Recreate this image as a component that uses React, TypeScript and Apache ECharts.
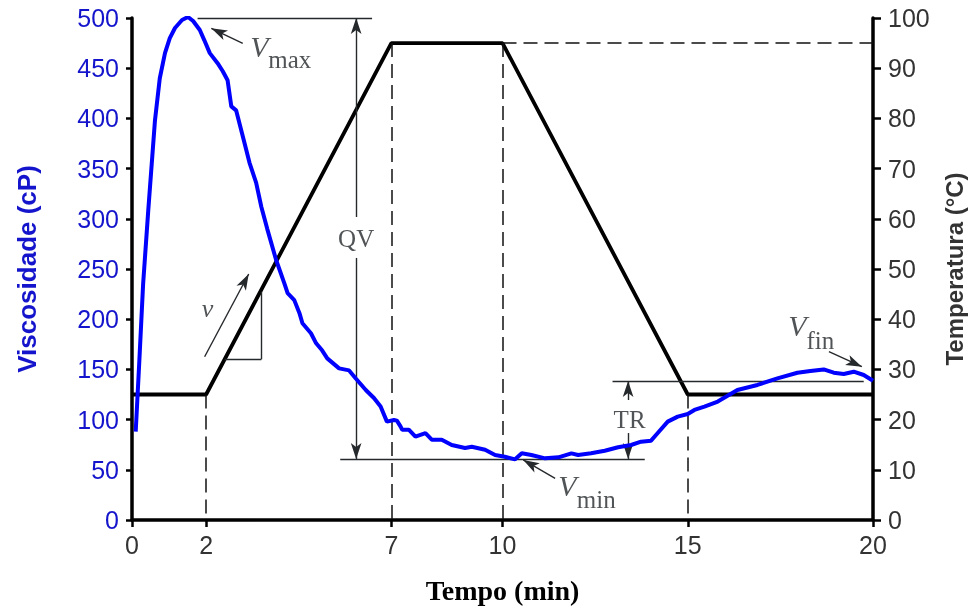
import React, { useEffect, useRef } from 'react';
import * as echarts from 'echarts';

// ---- data ----
const timeTicks = [0, 2, 7, 10, 15, 20];

const viscTime = [0.1, 0.2, 0.3, 0.44, 0.62, 0.75, 0.89, 1.02, 1.16, 1.35, 1.51, 1.65, 1.83, 1.95, 2.1, 2.31, 2.45, 2.58, 2.68, 2.81, 3.04, 3.17, 3.35, 3.49, 3.65, 3.89, 4.11, 4.2, 4.38, 4.52, 4.6, 4.83, 4.97, 5.13, 5.27, 5.59, 5.86, 6.04, 6.31, 6.53, 6.71, 6.88, 7.07, 7.15, 7.25, 7.29, 7.47, 7.65, 7.92, 8.09, 8.36, 8.63, 8.99, 9.17, 9.53, 9.8, 10.06, 10.34, 10.52, 10.78, 11.15, 11.51, 11.86, 12.04, 12.39, 12.76, 13.12, 13.47, 13.74, 14.01, 14.19, 14.46, 14.73, 15.0, 15.18, 15.45, 15.81, 16.34, 16.88, 17.42, 17.96, 18.31, 18.67, 18.94, 19.21, 19.48, 19.75, 20.0];
const viscValue = [88, 160, 235, 309, 398, 440, 465, 480, 490, 498, 501, 497, 488, 478, 465, 455, 447, 438, 412, 408, 375, 356, 336, 312, 290, 259, 236, 226, 219, 206, 196, 186, 176, 169, 161, 151, 149, 141, 129.5, 121.5, 113, 98, 99.6, 99, 93, 90, 90, 83, 86.6, 80, 80, 74.7, 71.7, 73, 70, 64.7, 63, 60.4, 66.4, 64.7, 61.4, 62.4, 66.4, 64.7, 66.4, 69, 72.4, 74.7, 78, 79, 86.6, 98, 103, 105.6, 109.6, 113, 118, 129.5, 134.5, 141, 146.7, 148.4, 150, 146.7, 145.4, 147.7, 144.4, 138.7];

const tempTime = [0, 2, 7, 10, 15, 20];
const tempValue = [25, 25, 95, 95, 25, 25];

// dashed guides (temperature coordinates): [x1, y1, x2, y2]
const dashedGuides = [
  [2, 25, 2, 0],
  [7, 95, 7, 0],
  [10, 95, 10, 0],
  [15, 25, 15, 0],
  [10, 95, 20, 95],
];

// plain annotation lines (viscosity coordinates): [x1, y1, x2, y2]
const plainLines = [
  [1.77, 500, 6.48, 500],
  [5.62, 60.8, 13.84, 60.8],
  [12.97, 138.4, 19.75, 138.4],
  [2.5, 160, 3.49, 160],
  [3.49, 160, 3.49, 227.4],
];

// arrows (viscosity coordinates): [tailX, tailY, headX, headY]
const arrowLines = [
  [6.05, 301.8, 6.05, 500],
  [6.05, 261, 6.05, 60.8],
  [13.39, 119.5, 13.39, 138.4],
  [13.39, 86.6, 13.39, 60.8],
  [2.99, 474.8, 2.14, 489.7],
  [11.42, 41.5, 10.56, 59.8],
  [18.81, 167.6, 19.7, 152.7],
  [1.96, 162.6, 3.15, 245.0],
];

// text annotations (viscosity coordinates)
const annoText = ['QV', 'TR', 'v', 'V', 'max', 'V', 'min', 'V', 'fin'];
const annoX = [6.05, 13.43, 2.04, 3.44, 4.26, 11.75, 12.53, 17.96, 18.58];
const annoY = [279.9, 100, 211, 471.6, 458.7, 33.9, 20.9, 194, 179];
const annoItalic = [false, false, true, true, false, true, false, true, false];
const annoSize = [25, 25, 26, 30, 25, 30, 25, 30, 25];

export default function App() {
  const ref = useRef<HTMLDivElement>(null);
  useEffect(() => {
    const chart = echarts.init(ref.current!, null, { renderer: 'svg' });
    const annColor = '#26292c';
    const blue = '#1414cc';
    const sansFont = 'Liberation Sans, Arial, sans-serif';
    const serifFont = 'Liberation Serif, Times New Roman, serif';

    const option: any = {
      animation: false,
      grid: { left: 132, right: 98, top: 18, bottom: 94 },
      xAxis: {
        type: 'value',
        min: 0,
        max: 20,
        axisLine: { show: true, onZero: false, lineStyle: { color: '#000', width: 3.5 } },
        axisTick: { show: true, customValues: timeTicks, length: 7, lineStyle: { color: '#000', width: 2.5 } },
        axisLabel: { customValues: timeTicks, fontSize: 25, color: '#333', fontFamily: sansFont, margin: 12 },
        splitLine: { show: false },
        name: 'Tempo (min)',
        nameLocation: 'middle',
        nameGap: 56,
        nameTextStyle: { fontFamily: serifFont, fontWeight: 'bold', fontSize: 28, color: '#000' },
      },
      yAxis: [
        {
          type: 'value',
          position: 'left',
          min: 0,
          max: 500,
          interval: 50,
          axisLine: { show: true, lineStyle: { color: '#000', width: 3.5 } },
          axisTick: { show: true, length: 6, lineStyle: { color: '#000', width: 2.5 } },
          axisLabel: { fontSize: 25, color: blue, fontFamily: sansFont, margin: 13 },
          splitLine: { show: false },
          name: 'Viscosidade (cP)',
          nameLocation: 'middle',
          nameRotate: 90,
          nameGap: 92,
          nameTextStyle: { fontFamily: sansFont, fontWeight: 'bold', fontSize: 26, color: blue },
        },
        {
          type: 'value',
          position: 'right',
          min: 0,
          max: 100,
          interval: 10,
          axisLine: { show: true, lineStyle: { color: '#000', width: 3.5 } },
          axisTick: { show: true, length: 8, lineStyle: { color: '#000', width: 2.5 } },
          axisLabel: { fontSize: 25, color: '#333', fontFamily: sansFont, margin: 15 },
          splitLine: { show: false },
          name: 'Temperatura (°C)',
          nameLocation: 'middle',
          nameRotate: 90,
          nameGap: 69,
          nameTextStyle: { fontFamily: sansFont, fontWeight: 'bold', fontSize: 24, color: '#333' },
        },
      ],
      series: [
        {
          type: 'line',
          yAxisIndex: 1,
          data: tempTime.map((t, i) => [t, tempValue[i]]),
          symbol: 'none',
          lineStyle: { color: '#000', width: 3.8 },
          z: 3,
          markLine: {
            silent: true,
            symbol: ['none', 'none'],
            label: { show: false },
            lineStyle: { color: '#111', width: 1.5, type: [14, 7] },
            data: dashedGuides.map((d) => [{ coord: [d[0], d[1]] }, { coord: [d[2], d[3]] }]),
          },
        },
        {
          type: 'line',
          yAxisIndex: 0,
          data: viscTime.map((t, i) => [t, viscValue[i]]),
          symbol: 'none',
          lineStyle: { color: '#0000ff', width: 4 },
          z: 5,
          markLine: {
            silent: true,
            symbol: ['none', 'none'],
            label: { show: false },
            lineStyle: { color: annColor, width: 1.4, type: 'solid' },
            data: [
              ...plainLines.map((d) => [{ coord: [d[0], d[1]] }, { coord: [d[2], d[3]] }]),
              ...arrowLines.map((d) => [
                { coord: [d[0], d[1]], symbol: 'none' },
                { coord: [d[2], d[3]], symbol: 'arrow', symbolSize: [8, 16] },
              ]),
            ],
          },
        },
        {
          type: 'scatter',
          yAxisIndex: 0,
          symbolSize: 0,
          silent: true,
          z: 6,
          data: annoText.map((txt, i) => ({
            value: [annoX[i], annoY[i]],
            label: {
              show: true,
              position: 'inside',
              formatter: txt,
              fontFamily: serifFont,
              fontStyle: annoItalic[i] ? 'italic' : 'normal',
              fontSize: annoSize[i],
              color: annColor,
            },
          })),
        },
      ],
    };
    chart.setOption(option);
    return () => chart.dispose();
  }, []);
  return <div ref={ref} style={{ position: 'fixed', left: 0, top: 0, width: 974, height: 614 }} />;
}
